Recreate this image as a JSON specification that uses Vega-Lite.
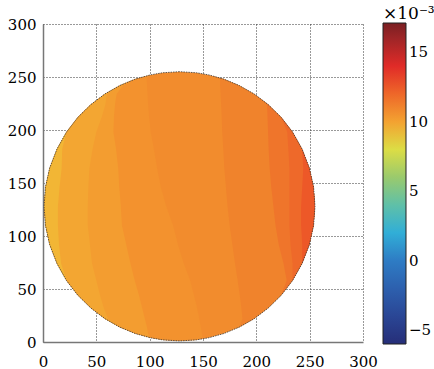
{
"$schema":"https://vega.github.io/schema/vega-lite/v6.json",
"width":320,"height":318,
"autosize":{"type":"none"},
"padding":{"left":43,"top":24,"right":71,"bottom":27},
"background":"white",
"config":{"view":{"stroke":null},"font":"DejaVu Serif"},
"data":{"values":[
{"b":0,"y":1,"x":128,"x2":128,"v":10.85},
{"b":0,"y":2,"x":112.1,"x2":143.9,"v":10.85},
{"b":0,"y":4,"x":100.6,"x2":155.4,"v":10.85},
{"b":0,"y":8,"x":86.4,"x2":169.6,"v":10.85},
{"b":0,"y":14,"x":72,"x2":184,"v":10.85},
{"b":0,"y":22,"x":58,"x2":198,"v":10.85},
{"b":0,"y":32,"x":44.9,"x2":211.1,"v":10.85},
{"b":0,"y":44,"x":32.7,"x2":223.3,"v":10.85},
{"b":0,"y":58,"x":22,"x2":234,"v":10.85},
{"b":0,"y":74,"x":13.1,"x2":242.9,"v":10.85},
{"b":0,"y":92,"x":6.2,"x2":249.8,"v":10.85},
{"b":0,"y":110,"x":2.3,"x2":253.7,"v":10.85},
{"b":0,"y":128,"x":1,"x2":255,"v":10.85},
{"b":0,"y":146,"x":2.3,"x2":253.7,"v":10.85},
{"b":0,"y":164,"x":6.2,"x2":249.8,"v":10.85},
{"b":0,"y":182,"x":13.1,"x2":242.9,"v":10.85},
{"b":0,"y":198,"x":22,"x2":234,"v":10.85},
{"b":0,"y":212,"x":32.7,"x2":223.3,"v":10.85},
{"b":0,"y":224,"x":44.9,"x2":211.1,"v":10.85},
{"b":0,"y":234,"x":58,"x2":198,"v":10.85},
{"b":0,"y":242,"x":72,"x2":184,"v":10.85},
{"b":0,"y":248,"x":86.4,"x2":169.6,"v":10.85},
{"b":0,"y":252,"x":100.6,"x2":155.4,"v":10.85},
{"b":0,"y":254,"x":112.1,"x2":143.9,"v":10.85},
{"b":0,"y":255,"x":128,"x2":128,"v":10.85},
{"b":1,"y":1,"x":128,"x2":128,"v":10.6},
{"b":1,"y":2,"x":112.1,"x2":143.9,"v":10.6},
{"b":1,"y":4,"x":100.6,"x2":149.5,"v":10.6},
{"b":1,"y":8,"x":86.4,"x2":149,"v":10.6},
{"b":1,"y":14,"x":72,"x2":148,"v":10.6},
{"b":1,"y":22,"x":58,"x2":146.5,"v":10.6},
{"b":1,"y":32,"x":44.9,"x2":144.5,"v":10.6},
{"b":1,"y":44,"x":32.7,"x2":141.5,"v":10.6},
{"b":1,"y":58,"x":22,"x2":138,"v":10.6},
{"b":1,"y":74,"x":13.1,"x2":132,"v":10.6},
{"b":1,"y":92,"x":6.2,"x2":126.5,"v":10.6},
{"b":1,"y":110,"x":2.3,"x2":122,"v":10.6},
{"b":1,"y":128,"x":1,"x2":115.5,"v":10.6},
{"b":1,"y":146,"x":2.3,"x2":110.5,"v":10.6},
{"b":1,"y":164,"x":6.2,"x2":107,"v":10.6},
{"b":1,"y":182,"x":13.1,"x2":104,"v":10.6},
{"b":1,"y":198,"x":22,"x2":101,"v":10.6},
{"b":1,"y":212,"x":32.7,"x2":99.5,"v":10.6},
{"b":1,"y":224,"x":44.9,"x2":98.5,"v":10.6},
{"b":1,"y":234,"x":58,"x2":98,"v":10.6},
{"b":1,"y":242,"x":72,"x2":97.5,"v":10.6},
{"b":1,"y":248,"x":86.4,"x2":97,"v":10.6},
{"b":1,"y":252,"x":100.6,"x2":100.6,"v":10.6},
{"b":2,"y":4,"x":100.6,"x2":100.6,"v":10.2},
{"b":2,"y":8,"x":86.4,"x2":98.5,"v":10.2},
{"b":2,"y":14,"x":72,"x2":97.5,"v":10.2},
{"b":2,"y":22,"x":58,"x2":95.5,"v":10.2},
{"b":2,"y":32,"x":44.9,"x2":93,"v":10.2},
{"b":2,"y":44,"x":32.7,"x2":90,"v":10.2},
{"b":2,"y":58,"x":22,"x2":86,"v":10.2},
{"b":2,"y":74,"x":13.1,"x2":82,"v":10.2},
{"b":2,"y":92,"x":6.2,"x2":78,"v":10.2},
{"b":2,"y":110,"x":2.3,"x2":74,"v":10.2},
{"b":2,"y":128,"x":1,"x2":73,"v":10.2},
{"b":2,"y":146,"x":2.3,"x2":71.5,"v":10.2},
{"b":2,"y":164,"x":6.2,"x2":70.5,"v":10.2},
{"b":2,"y":182,"x":13.1,"x2":68.5,"v":10.2},
{"b":2,"y":198,"x":22,"x2":66,"v":10.2},
{"b":2,"y":212,"x":32.7,"x2":66.5,"v":10.2},
{"b":2,"y":224,"x":44.9,"x2":67.5,"v":10.2},
{"b":2,"y":234,"x":58,"x2":69,"v":10.2},
{"b":2,"y":242,"x":72,"x2":75,"v":10.2},
{"b":2,"y":248,"x":86.4,"x2":86.4,"v":10.2},
{"b":3,"y":14,"x":72,"x2":72,"v":9.8},
{"b":3,"y":22,"x":58,"x2":61,"v":9.8},
{"b":3,"y":32,"x":44.9,"x2":57,"v":9.8},
{"b":3,"y":44,"x":32.7,"x2":53.5,"v":9.8},
{"b":3,"y":58,"x":22,"x2":50,"v":9.8},
{"b":3,"y":74,"x":13.1,"x2":46,"v":9.8},
{"b":3,"y":92,"x":6.2,"x2":44,"v":9.8},
{"b":3,"y":110,"x":2.3,"x2":42,"v":9.8},
{"b":3,"y":128,"x":1,"x2":42,"v":9.8},
{"b":3,"y":146,"x":2.3,"x2":42.5,"v":9.8},
{"b":3,"y":164,"x":6.2,"x2":43.5,"v":9.8},
{"b":3,"y":182,"x":13.1,"x2":46.5,"v":9.8},
{"b":3,"y":198,"x":22,"x2":50,"v":9.8},
{"b":3,"y":212,"x":32.7,"x2":55,"v":9.8},
{"b":3,"y":224,"x":44.9,"x2":58.5,"v":9.8},
{"b":3,"y":234,"x":58,"x2":60,"v":9.8},
{"b":3,"y":242,"x":72,"x2":72,"v":9.8},
{"b":4,"y":58,"x":22,"x2":22,"v":9.35},
{"b":4,"y":74,"x":13.1,"x2":17,"v":9.35},
{"b":4,"y":92,"x":6.2,"x2":15,"v":9.35},
{"b":4,"y":110,"x":2.3,"x2":14,"v":9.35},
{"b":4,"y":128,"x":1,"x2":14,"v":9.35},
{"b":4,"y":146,"x":2.3,"x2":15.5,"v":9.35},
{"b":4,"y":164,"x":6.2,"x2":17.5,"v":9.35},
{"b":4,"y":182,"x":13.1,"x2":18,"v":9.35},
{"b":4,"y":198,"x":22,"x2":22,"v":9.35},
{"b":5,"y":14,"x":184,"x2":184,"v":11.2},
{"b":5,"y":22,"x":187,"x2":198,"v":11.2},
{"b":5,"y":32,"x":186,"x2":211.1,"v":11.2},
{"b":5,"y":44,"x":184.5,"x2":223.3,"v":11.2},
{"b":5,"y":58,"x":182.5,"x2":234,"v":11.2},
{"b":5,"y":74,"x":180,"x2":242.9,"v":11.2},
{"b":5,"y":92,"x":177.5,"x2":249.8,"v":11.2},
{"b":5,"y":110,"x":175,"x2":253.7,"v":11.2},
{"b":5,"y":128,"x":173,"x2":255,"v":11.2},
{"b":5,"y":146,"x":171.5,"x2":253.7,"v":11.2},
{"b":5,"y":164,"x":170,"x2":249.8,"v":11.2},
{"b":5,"y":182,"x":169,"x2":242.9,"v":11.2},
{"b":5,"y":198,"x":168,"x2":234,"v":11.2},
{"b":5,"y":212,"x":167.5,"x2":223.3,"v":11.2},
{"b":5,"y":224,"x":167,"x2":211.1,"v":11.2},
{"b":5,"y":234,"x":166.5,"x2":198,"v":11.2},
{"b":5,"y":242,"x":166,"x2":184,"v":11.2},
{"b":5,"y":248,"x":166,"x2":169.6,"v":11.2},
{"b":5,"y":252,"x":155.4,"x2":155.4,"v":11.2},
{"b":6,"y":44,"x":223.3,"x2":223.3,"v":11.65},
{"b":6,"y":58,"x":228.5,"x2":234,"v":11.65},
{"b":6,"y":74,"x":225.5,"x2":242.9,"v":11.65},
{"b":6,"y":92,"x":221,"x2":249.8,"v":11.65},
{"b":6,"y":110,"x":218,"x2":253.7,"v":11.65},
{"b":6,"y":128,"x":216,"x2":255,"v":11.65},
{"b":6,"y":146,"x":214,"x2":253.7,"v":11.65},
{"b":6,"y":164,"x":212.5,"x2":249.8,"v":11.65},
{"b":6,"y":182,"x":211.5,"x2":242.9,"v":11.65},
{"b":6,"y":198,"x":211,"x2":234,"v":11.65},
{"b":6,"y":212,"x":210.5,"x2":223.3,"v":11.65},
{"b":6,"y":224,"x":210,"x2":211.1,"v":11.65},
{"b":6,"y":234,"x":198,"x2":198,"v":11.65},
{"b":7,"y":58,"x":234,"x2":234,"v":11.95},
{"b":7,"y":74,"x":234,"x2":242.9,"v":11.95},
{"b":7,"y":92,"x":232,"x2":249.8,"v":11.95},
{"b":7,"y":110,"x":231,"x2":253.7,"v":11.95},
{"b":7,"y":128,"x":231,"x2":255,"v":11.95},
{"b":7,"y":146,"x":231,"x2":253.7,"v":11.95},
{"b":7,"y":164,"x":231,"x2":249.8,"v":11.95},
{"b":7,"y":182,"x":230,"x2":242.9,"v":11.95},
{"b":7,"y":198,"x":229,"x2":234,"v":11.95},
{"b":7,"y":212,"x":223.3,"x2":223.3,"v":11.95},
{"b":8,"y":74,"x":242.9,"x2":242.9,"v":12.4},
{"b":8,"y":92,"x":243,"x2":249.8,"v":12.4},
{"b":8,"y":110,"x":242,"x2":253.7,"v":12.4},
{"b":8,"y":128,"x":242,"x2":255,"v":12.4},
{"b":8,"y":146,"x":243,"x2":253.7,"v":12.4},
{"b":8,"y":164,"x":244,"x2":249.8,"v":12.4},
{"b":8,"y":182,"x":242.9,"x2":242.9,"v":12.4}
]},
"encoding":{
"y":{"field":"y","type":"quantitative","scale":{"domain":[0,300],"nice":false},
 "axis":{"values":[0,50,100,150,200,250,300],"title":null,"grid":true,"gridDash":[1,2],"gridColor":"#333","gridWidth":1,"ticks":false,"labelFontSize":15,"labelFont":"DejaVu Serif","labelColor":"black","labelPadding":7,"domainColor":"#777","domainWidth":1.5}},
"x":{"field":"x","type":"quantitative","stack":null,"scale":{"domain":[0,300],"nice":false},
 "axis":{"values":[0,50,100,150,200,250,300],"title":null,"grid":true,"gridDash":[1,2],"gridColor":"#333","gridWidth":1,"ticks":false,"labelFontSize":15,"labelFont":"DejaVu Serif","labelColor":"black","labelPadding":12,"labelFlush":false,"domainColor":"#777","domainWidth":1.5}},
"x2":{"field":"x2"},
"color":{"field":"v","type":"quantitative",
 "scale":{"domain":[-6,-3,0,1.5,4,5.5,7,8.5,9.5,10.5,11.5,12.7,13.9,14.9,15.8,17.1],
  "range":["#262E78","#2C52A3","#2E7CC4","#26AAE3","#5FC0A8","#8CC576","#B7D35A","#EEE23A","#F3AE34","#F3952E","#EF7B2B","#EC4C27","#E22B28","#C92A2A","#A52628","#7A1F22"],"interpolate":"rgb"},
 "legend":{"orient":"none","legendX":340,"legendY":-18,"direction":"vertical","type":"gradient","gradientLength":321,"gradientThickness":23,"gradientStrokeColor":"#222","gradientStrokeWidth":1,"values":[-5,0,5,10,15],"labelFontSize":15,"labelFont":"DejaVu Serif","labelColor":"black","labelOffset":3,"title":"×10⁻³","titleFontSize":17,"titleFont":"DejaVu Serif","titleFontWeight":"normal","titleColor":"black","titlePadding":0,"titleLimit":0,"padding":0}}
},
"layer":[
{"transform":[{"filter":"datum.b==0"}],"mark":{"type":"area","orient":"horizontal"}},
{"transform":[{"filter":"datum.b==1"}],"mark":{"type":"area","orient":"horizontal"}},
{"transform":[{"filter":"datum.b==2"}],"mark":{"type":"area","orient":"horizontal"}},
{"transform":[{"filter":"datum.b==3"}],"mark":{"type":"area","orient":"horizontal"}},
{"transform":[{"filter":"datum.b==4"}],"mark":{"type":"area","orient":"horizontal"}},
{"transform":[{"filter":"datum.b==5"}],"mark":{"type":"area","orient":"horizontal"}},
{"transform":[{"filter":"datum.b==6"}],"mark":{"type":"area","orient":"horizontal"}},
{"transform":[{"filter":"datum.b==7"}],"mark":{"type":"area","orient":"horizontal"}},
{"transform":[{"filter":"datum.b==8"}],"mark":{"type":"area","orient":"horizontal"}},
{"transform":[{"filter":"datum.b==0"}],"mark":{"type":"area","orient":"horizontal","fillOpacity":0,"stroke":"#3a3a3a","strokeWidth":0.8,"strokeDash":[1.5,1]}}
]
}
